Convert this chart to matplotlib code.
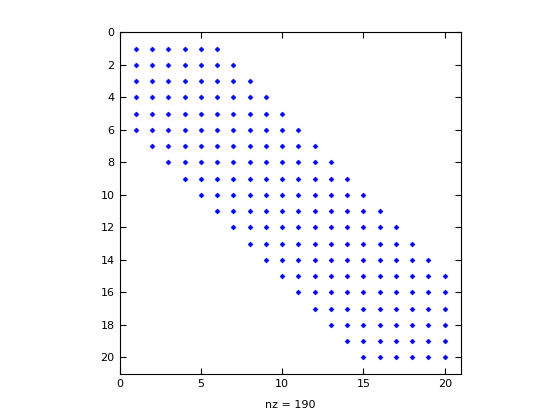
import matplotlib
matplotlib.use("Agg")
import matplotlib.pyplot as plt

# Nonzero pattern per row: first and last nonzero column
rows = list(range(1, 21))
row_start = [1, 1, 1, 1, 1, 1, 2, 3, 4, 5, 6, 7, 8, 9, 10, 11, 12, 13, 14, 15]
row_end = [6, 7, 8, 9, 10, 11, 12, 13, 14, 15, 16, 17, 18, 19, 20, 20, 20, 20, 20, 20]
xticks = [0, 5, 10, 15, 20]
yticks = [0, 2, 4, 6, 8, 10, 12, 14, 16, 18, 20]

xs, ys = [], []
for r, a, b in zip(rows, row_start, row_end):
    for c in range(a, b + 1):
        xs.append(c)
        ys.append(r)
nz = len(xs)

fig = plt.figure(figsize=(5.6, 4.2), dpi=100)
ax = fig.add_axes([119.5 / 560, (420 - 373.7) / 420, 341.5 / 560, 341.4 / 420])
ax.plot(xs, ys, linestyle="none", marker="D", markersize=2.6, color="#0000ff",
        markeredgewidth=0.3)
ax.set_xlim(0, 21)
ax.set_ylim(21, 0)
ax.set_xticks(xticks)
ax.set_yticks(yticks)
ax.tick_params(direction="in", length=4, labelsize=8, width=0.8, top=True, right=True,
               labeltop=False, labelright=False)
for s in ax.spines.values():
    s.set_linewidth(0.8)
ax.set_xlabel(f"nz = {nz}", fontsize=8, labelpad=8)
fig.savefig("out.png", dpi=100)
